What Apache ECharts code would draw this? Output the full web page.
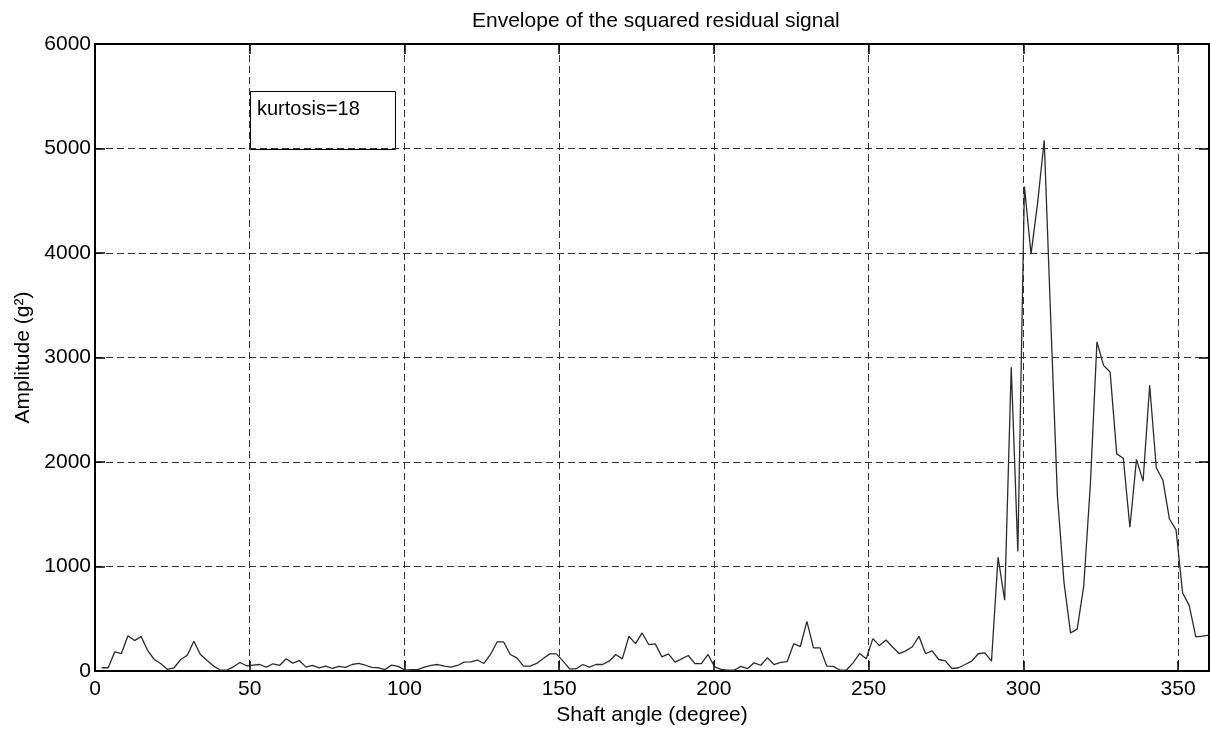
<!DOCTYPE html>
<html>
<head>
<meta charset="utf-8">
<script src="https://cdn.jsdelivr.net/npm/echarts@6/dist/echarts.min.js"></script>
<style>
html,body{margin:0;padding:0;background:#fff;}
#chart{width:1210px;height:731px;}
</style>
</head>
<body>
<div id="chart"></div>
<script>
// ---- data ----
const titleText = 'Envelope of the squared residual signal';
const xLabel = 'Shaft angle (degree)';
const yLabel = 'Amplitude (g\u00B2)';
const annotation = 'kurtosis=18';
const xTicks = [0, 50, 100, 150, 200, 250, 300, 350];
const yTicks = [0, 1000, 2000, 3000, 4000, 5000, 6000];
const sampleCount = 169;          // samples over one revolution
const fullTurn = 360;
// amplitude (g^2), one per sample
const amplitude = [
  32,32,184,168,339,292,330,197,111,70,
  16,32,111,152,285,158,101,48,10,10,
  41,82,51,57,63,38,70,54,118,76,
  101,38,54,30,48,25,45,35,63,73,
  56,35,32,15,57,45,10,13,16,38,
  54,63,48,38,54,86,89,106,73,159,
  279,279,159,127,48,48,73,120,165,165,
  95,22,22,63,38,63,63,95,159,117,
  333,263,365,254,260,136,165,86,117,149,
  71,71,159,40,16,10,10,45,24,79,
  56,127,63,83,90,262,235,476,222,222,
  48,45,10,10,79,168,118,311,244,298,
  231,168,194,233,333,166,194,111,98,25,
  32,63,95,166,174,95,1090,678,2908,1144,
  4636,3990,4480,5079,3350,1680,850,366,401,816,
  1784,3150,2925,2862,2078,2036,1376,2026,1818,2735,
  1946,1829,1455,1352,747,626,328,334,345
];
// shaft angle of each sample (uniform sampling grid)
const angles = amplitude.map((_, i) => (i + 1) * fullTurn / sampleCount);

// ---- chart ----
const chart = echarts.init(document.getElementById('chart'), null, {renderer: 'canvas'});
const font = 'Liberation Sans, Arial, Helvetica, sans-serif';
const gridSplit = {show: true, lineStyle: {color: '#333', width: 1, type: [7, 4]}};
const option = {
  animation: false,
  backgroundColor: '#fff',
  textStyle: {fontFamily: font},
  title: {
    text: titleText, left: 467, top: 6,
    textStyle: {fontFamily: font, fontSize: 21, fontWeight: 'normal', color: '#000'}
  },
  grid: {left: 95, right: 1, top: 44, bottom: 56, containLabel: false},
  xAxis: [{
    type: 'value', min: xTicks[0], max: fullTurn, interval: 50,
    name: xLabel, nameLocation: 'middle', nameGap: 30,
    nameTextStyle: {fontFamily: font, fontSize: 21, color: '#000'},
    axisLine: {show: true, onZero: false, lineStyle: {color: '#000', width: 2}},
    axisTick: {show: true, inside: true, length: 10, lineStyle: {color: '#000', width: 1.5}},
    axisLabel: {show: true, fontFamily: font, fontSize: 21, color: '#000', margin: 8,
      showMaxLabel: false,
      formatter: v => xTicks.includes(v) ? String(v) : ''},
    splitLine: gridSplit
  }, {
    type: 'value', position: 'top', min: xTicks[0], max: fullTurn, interval: 50,
    axisLine: {show: true, onZero: false, lineStyle: {color: '#000', width: 2}},
    axisTick: {show: true, inside: true, length: 10, lineStyle: {color: '#000', width: 1.5}},
    axisLabel: {show: false}, splitLine: {show: false}
  }],
  yAxis: [{
    type: 'value', min: yTicks[0], max: yTicks[yTicks.length - 1], interval: 1000,
    name: yLabel, nameLocation: 'middle', nameGap: 58, nameRotate: 90,
    nameTextStyle: {fontFamily: font, fontSize: 21, color: '#000'},
    axisLine: {show: true, onZero: false, lineStyle: {color: '#000', width: 2}},
    axisTick: {show: true, inside: true, length: 10, lineStyle: {color: '#000', width: 1.5}},
    axisLabel: {show: true, fontFamily: font, fontSize: 21, color: '#000', margin: 4,
      formatter: v => String(v)},
    splitLine: gridSplit
  }, {
    type: 'value', position: 'right', min: yTicks[0], max: yTicks[yTicks.length - 1], interval: 1000,
    axisLine: {show: true, onZero: false, lineStyle: {color: '#000', width: 2}},
    axisTick: {show: true, inside: true, length: 10, lineStyle: {color: '#000', width: 1.5}},
    axisLabel: {show: false}, splitLine: {show: false}
  }],
  series: [{
    type: 'line',
    data: angles.map((a, i) => [a, amplitude[i]]),
    showSymbol: false,
    lineStyle: {color: '#2b2b2b', width: 1.3},
    z: 5
  }],
  graphic: [{
    type: 'group', left: 250, top: 91, z: 100,
    children: [{
      type: 'rect', shape: {x: 0.5, y: 0.5, width: 145, height: 58},
      style: {fill: '#fff', stroke: '#000', lineWidth: 1}
    }, {
      type: 'text', x: 7, y: 8,
      style: {text: annotation, font: '20px ' + font, fill: '#000'}
    }]
  }]
};
chart.setOption(option);
</script>
</body>
</html>
